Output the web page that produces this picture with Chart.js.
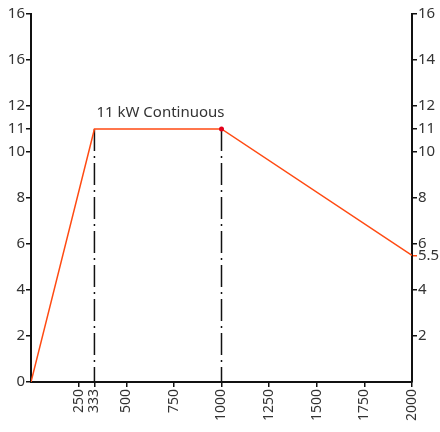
<!DOCTYPE html>
<html>
<head>
<meta charset="utf-8">
<script src="https://cdn.jsdelivr.net/npm/chart.js@4.4.1/dist/chart.umd.min.js"></script>
<style>
  html, body { margin: 0; padding: 0; background: #fff; }
  #wrap { width: 440px; height: 432px; }
</style>
</head>
<body>
<div id="wrap"><canvas id="chart" width="440" height="432"></canvas></div>
<script>
// curve points (speed vs power)
const speeds = [0, 333, 1000, 2000];
const powers = [0, 11, 11, 5.5];

// x tick values
const xTicks = [250, 333, 500, 750, 1000, 1250, 1500, 1750, 2000];

// left axis ticks and their printed labels (second "16" sits at 14 in the source)
const leftTicks = [0, 2, 4, 6, 8, 10, 11, 12, 14, 16];
const leftLabels = ['0', '2', '4', '6', '8', '10', '11', '12', '16', '16'];

// right axis ticks
const rightTicks = [2, 4, 5.5, 6, 8, 10, 11, 12, 14, 16];

// dash-dot markers
const markerX = [333, 1000];
const markerTop = 11;

const annotation = '11 kW Continuous';

const orange = '#ff4a12';
const tickFont = { family: "'Noto Sans', sans-serif", size: 15 };

const annotationPlugin = {
  id: 'annotationText',
  afterDatasetsDraw(chart) {
    const { ctx, scales } = chart;
    ctx.save();
    ctx.font = "15px 'Noto Sans', sans-serif";
    ctx.fillStyle = '#333';
    ctx.textAlign = 'left';
    ctx.textBaseline = 'alphabetic';
    ctx.fillText(annotation, scales.x.getPixelForValue(333) + 2, scales.y.getPixelForValue(11) - 12);
    ctx.restore();
  }
};

const datasets = [
  {
    data: speeds.map((s, i) => ({ x: s, y: powers[i] })),
    borderColor: orange,
    borderWidth: 1.5,
    pointRadius: [0, 0, 2.5, 0],
    pointBackgroundColor: '#e3001b',
    pointBorderWidth: 0,
    order: 0
  }
];
markerX.forEach(x => {
  datasets.push({
    data: [{ x: x, y: markerTop }, { x: x, y: 0 }],
    borderColor: '#111',
    borderWidth: 1.5,
    borderDash: [22, 5, 2, 5],
    pointRadius: 0,
    order: 1
  });
});

new Chart(document.getElementById('chart').getContext('2d'), {
  type: 'line',
  data: { datasets },
  options: {
    responsive: false,
    animation: false,
    layout: { padding: { top: 14, left: 0, right: 0, bottom: 0 } },
    plugins: { legend: { display: false }, tooltip: { enabled: false } },
    scales: {
      x: {
        type: 'linear',
        min: 0,
        max: 2000,
        afterBuildTicks: s => { s.ticks = xTicks.map(v => ({ value: v })); },
        afterFit: s => { s.height = 50; },
        grid: { drawOnChartArea: false, tickLength: 5, color: '#111', lineWidth: 1.5 },
        border: { color: '#111', width: 2 },
        ticks: {
          autoSkip: false,
          minRotation: 90,
          maxRotation: 90,
          padding: 2,
          color: '#333',
          font: { family: "'Noto Sans', sans-serif", size: 14 },
          callback: v => String(v)
        }
      },
      y: {
        type: 'linear',
        position: 'left',
        min: 0,
        max: 16,
        afterBuildTicks: s => { s.ticks = leftTicks.map(v => ({ value: v })); },
        afterFit: s => { s.width = 31; },
        grid: { drawOnChartArea: false, tickLength: 5, color: '#111', lineWidth: 1.5 },
        border: { color: '#111', width: 2 },
        ticks: {
          padding: 1,
          color: '#333',
          font: tickFont,
          callback: (v, i) => leftLabels[i]
        }
      },
      y2: {
        type: 'linear',
        position: 'right',
        min: 0,
        max: 16,
        afterBuildTicks: s => { s.ticks = rightTicks.map(v => ({ value: v })); },
        afterFit: s => { s.width = 28; },
        grid: {
          drawOnChartArea: false,
          tickLength: 5,
          lineWidth: 1.5,
          color: c => (c.tick && c.tick.value === 5.5 ? orange : '#111')
        },
        border: { color: '#111', width: 2 },
        ticks: {
          padding: 1,
          color: '#333',
          font: tickFont,
          callback: v => String(v)
        }
      }
    }
  },
  plugins: [annotationPlugin]
});
</script>
</body>
</html>
